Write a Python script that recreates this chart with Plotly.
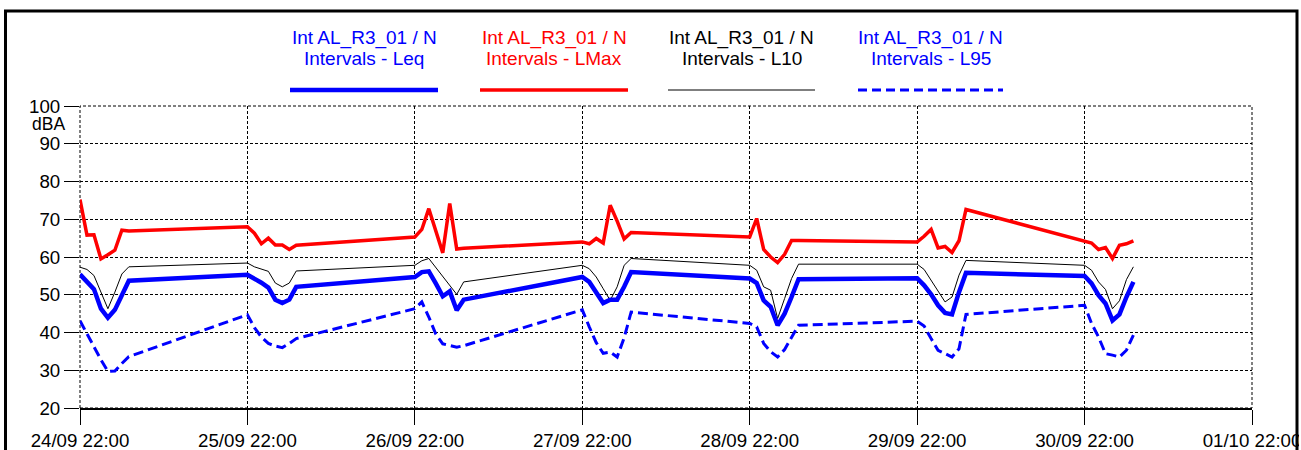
import datetime as dt
import plotly.graph_objects as go

# Night-time interval measurements, hourly from 22:00 to 05:00 each night
night_dates = ["2023-09-24", "2023-09-25", "2023-09-26", "2023-09-27",
               "2023-09-28", "2023-09-29", "2023-09-30"]
hours_per_night = 8

leq = [55.4, 53.4, 51.5, 46.3, 43.9, 46.0, 50.0, 53.7,
       55.3, 54.3, 53.2, 51.9, 48.7, 47.8, 48.7, 52.1,
       54.7, 56.0, 56.2, 53.0, 49.6, 50.9, 45.9, 48.7,
       54.7, 53.4, 50.7, 47.8, 48.7, 48.7, 52.1, 56.0,
       54.3, 53.1, 48.5, 46.8, 41.9, 45.0, 49.4, 54.1,
       54.4, 52.5, 50.1, 47.2, 45.2, 44.8, 50.7, 55.8,
       55.0, 53.0, 49.9, 47.7, 43.2, 44.8, 49.4, 53.4]

lmax = [75.2, 65.8, 65.9, 59.5, 60.6, 61.8, 67.1, 66.9,
        68.0, 66.3, 63.5, 65.0, 63.2, 63.2, 62.0, 63.1,
        65.3, 67.3, 72.8, 67.1, 61.1, 74.2, 62.1, 62.3,
        64.0, 63.5, 64.9, 63.7, 73.7, 69.5, 64.8, 66.5,
        65.3, 70.2, 62.0, 60.0, 58.5, 60.7, 64.4, 64.4,
        64.0, 65.5, 67.3, 62.4, 62.8, 61.2, 64.3, 72.6,
        64.0, 63.7, 62.0, 62.5, 59.6, 63.1, 63.5, 64.3]

l10 = [57.3, 56.7, 55.1, 50.7, 46.3, 50.7, 55.5, 57.4,
       58.4, 57.4, 56.8, 56.2, 53.1, 52.1, 53.1, 56.3,
       57.8, 59.0, 59.6, 57.2, 54.9, 52.5, 50.1, 53.4,
       57.8, 56.9, 54.7, 51.6, 48.5, 52.1, 57.8, 59.6,
       57.8, 56.5, 52.1, 51.2, 43.7, 49.0, 54.3, 58.1,
       58.1, 56.7, 53.8, 50.7, 48.1, 49.4, 55.2, 59.1,
       57.8, 56.5, 53.4, 51.4, 46.3, 48.4, 54.0, 57.4]

l95 = [43.1, 39.6, 36.2, 32.8, 29.7, 29.8, 31.8, 33.6,
       44.7, 41.3, 38.8, 37.1, 36.4, 36.0, 37.1, 38.4,
       46.3, 48.1, 44.1, 39.6, 37.0, 36.5, 36.1, 36.5,
       46.0, 41.5, 37.3, 34.5, 34.8, 33.5, 38.6, 45.4,
       42.4, 41.5, 37.1, 34.9, 33.5, 35.5, 38.8, 41.9,
       43.0, 41.7, 38.4, 35.3, 34.4, 33.5, 35.7, 44.8,
       47.2, 42.4, 38.8, 34.4, 34.0, 33.5, 35.3, 39.3]

series_names = ["Int AL_R3_01 / N<br>Intervals - Leq",
                "Int AL_R3_01 / N<br>Intervals - LMax",
                "Int AL_R3_01 / N<br>Intervals - L10",
                "Int AL_R3_01 / N<br>Intervals - L95"]

y_ticks = [20, 30, 40, 50, 60, 70, 80, 90, 100]
x_start = "2023-09-24 22:00"
x_end = "2023-10-01 22:00"

times = []
for d in night_dates:
    base = dt.datetime.fromisoformat(d + " 22:00")
    for h in range(hours_per_night):
        times.append(base + dt.timedelta(hours=h))

BLUE = "#0000ff"
RED = "#ff0000"
BLACK = "#000000"
FONT = "Liberation Sans, Arial, sans-serif"
GRID_DASH = "3px,2px"

W, H = 1301, 450
L, R, T, B = 80, 49, 106, 42
PW, PH = W - L - R, H - T - B


def px(x):
    return (x - L) / PW


def py(y):
    return (H - B - y) / PH


styles = [
    dict(color=BLUE, width=4.5),
    dict(color=RED, width=3.5),
    dict(color=BLACK, width=1),
    dict(color=BLUE, width=3, dash="10px,5px"),
]

fig = go.Figure()
for vals, name, st in zip([l95, l10, lmax, leq], series_names[::-1], styles[::-1]):
    fig.add_trace(go.Scatter(x=times, y=vals, mode="lines", name=name,
                             line=dict(**st), showlegend=False))

shapes = []
annotations = []

# Dashed border round the plotting area (left, top and right edges)
shapes.append(dict(type="rect", xref="paper", yref="paper", layer="below",
                   x0=0, x1=1, y0=0, y1=1,
                   line=dict(color=BLACK, width=1, dash=GRID_DASH),
                   fillcolor="rgba(0,0,0,0)"))

# Legend: two-line caption above a line sample for each series
legend_x = [(290, 438), (480, 628), (668, 815), (858, 1003)]
text_colors = [BLUE, RED, BLACK, BLUE]
sample_styles = [
    dict(color=BLUE, width=4.5),
    dict(color=RED, width=3.5),
    dict(color="#555555", width=1.5),
    dict(color=BLUE, width=3, dash="9px,5px"),
]
for (x0, x1), name, tc, ss in zip(legend_x, series_names, text_colors, sample_styles):
    cx = (x0 + x1) / 2
    l1, l2 = name.split("<br>")
    annotations.append(dict(x=px(cx), y=py(38), xref="paper", yref="paper",
                            text=l1, showarrow=False, xanchor="center",
                            yanchor="middle", font=dict(size=19, color=tc, family=FONT)))
    annotations.append(dict(x=px(cx), y=py(59), xref="paper", yref="paper",
                            text=l2, showarrow=False, xanchor="center",
                            yanchor="middle", font=dict(size=19, color=tc, family=FONT)))
    shapes.append(dict(type="line", xref="paper", yref="paper",
                       x0=px(x0), x1=px(x1), y0=py(90), y1=py(90),
                       line=dict(**ss)))

# Unit label tucked between the 100 and 90 tick labels
annotations.append(dict(x=px(66), y=py(124), xref="paper", yref="paper",
                        text="dBA", showarrow=False, xanchor="right",
                        yanchor="middle", borderpad=0,
                        font=dict(size=17.5, color=BLACK, family=FONT)))

# Outer frame
shapes.append(dict(type="rect", xref="paper", yref="paper", layer="above",
                   x0=px(1299), x1=px(1330), y0=py(0), y1=py(470),
                   fillcolor="white", line=dict(width=0)))
shapes.append(dict(type="rect", xref="paper", yref="paper", layer="above",
                   x0=px(5.5), x1=px(1297), y0=py(11), y1=py(470),
                   line=dict(color=BLACK, width=3), fillcolor="rgba(0,0,0,0)"))

fig.update_layout(
    template="none",
    width=W, height=H,
    margin=dict(l=L, r=R, t=T, b=B, pad=0),
    paper_bgcolor="white", plot_bgcolor="white",
    font=dict(family=FONT, size=18.7, color=BLACK),
    shapes=shapes, annotations=annotations,
    showlegend=False,
)
fig.update_xaxes(
    type="date", range=[x_start, x_end], autorange=False,
    tick0=x_start, dtick=86400000, tickformat="%d/%m %H:%M",
    showgrid=True, gridcolor=BLACK, gridwidth=1, griddash=GRID_DASH,
    showline=True, linecolor=BLACK, linewidth=1.5, mirror=False,
    ticks="outside", ticklen=15, tickwidth=1, tickcolor=BLACK,
    ticklabeloverflow="allow", automargin=False, zeroline=False,
    tickfont=dict(size=18.7, family=FONT, color=BLACK),
)
fig.update_yaxes(
    range=[20, 100], autorange=False, tickvals=y_ticks,
    showgrid=True, gridcolor=BLACK, gridwidth=1, griddash=GRID_DASH,
    showline=False, zeroline=False,
    ticks="outside", ticklen=15, tickwidth=1, tickcolor=BLACK,
    automargin=False,
    tickfont=dict(size=18.7, family=FONT, color=BLACK),
)

fig.write_html("out.html")
